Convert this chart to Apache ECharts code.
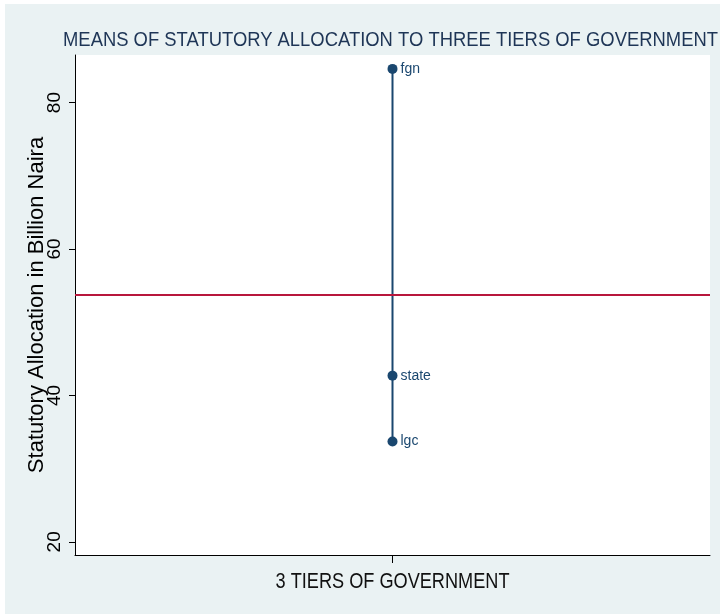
<!DOCTYPE html>
<html>
<head>
<meta charset="utf-8">
<script src="https://cdn.jsdelivr.net/npm/echarts@6/dist/echarts.min.js"></script>
<style>
  html, body { margin: 0; padding: 0; background: #ffffff; }
  #main { position: absolute; left: 5px; top: 4px; width: 715px; height: 610px; }
</style>
</head>
<body>
<div id="main"></div>
<script>
// tiers and their mean allocation (billion naira)
const tiers = ['fgn', 'state', 'lgc'];
const means = [84.6, 42.7, 33.7];
const grandMean = 53.7;
const yTicks = [20, 40, 60, 80];

const titleText = 'MEANS OF STATUTORY ALLOCATION TO THREE TIERS OF GOVERNMENT';
const xName = '3 TIERS OF GOVERNMENT';
const font = '"Liberation Sans", Arial, sans-serif';
const navy = '#1a476f';

// the original uses a narrow face for title and x title, squeeze ours to the same width
const ctx = document.createElement('canvas').getContext('2d');
ctx.font = '20px ' + font;
const titleScale = 655 / ctx.measureText(titleText).width;
ctx.font = '22px ' + font;
const xNameScale = 234 / ctx.measureText(xName).width;

const chart = echarts.init(document.getElementById('main'));

const option = {
  backgroundColor: '#eaf2f3',
  animation: false,
  graphic: [
    {
      type: 'text',
      x: 58,
      y: 36.5,
      scaleX: titleScale,
      style: {
        text: titleText,
        font: '20px ' + font,
        fill: '#1e3556',
        align: 'left',
        verticalAlign: 'middle'
      }
    },
    {
      type: 'text',
      x: 387.5,
      y: 578,
      scaleX: xNameScale,
      style: {
        text: xName,
        font: '22px ' + font,
        fill: '#111',
        align: 'center',
        verticalAlign: 'middle'
      }
    }
  ],
  grid: {
    left: 70, right: 10, top: 51, bottom: 59,
    show: true, backgroundColor: '#ffffff', borderWidth: 0
  },
  xAxis: {
    type: 'value',
    min: 0, max: 2,
    axisLine: { show: true, lineStyle: { color: '#000', width: 1 } },
    axisTick: { show: true, length: 8, customValues: [1], lineStyle: { color: '#000' } },
    axisLabel: { show: false },
    splitLine: { show: false }
  },
  yAxis: {
    type: 'value',
    min: 18.2, max: 86.5,
    name: 'Statutory Allocation in Billion Naira',
    nameLocation: 'middle',
    nameGap: 27,
    nameMoveOverlap: false,
    nameTextStyle: { fontFamily: font, fontSize: 22, color: '#000' },
    axisLine: { show: true, lineStyle: { color: '#000', width: 1 } },
    axisTick: { show: true, length: 6, customValues: yTicks, lineStyle: { color: '#000' } },
    axisLabel: {
      customValues: yTicks,
      rotate: 90,
      margin: 11,
      fontFamily: font,
      fontSize: 19,
      color: '#000'
    },
    splitLine: { show: false }
  },
  series: [
    {
      type: 'line',
      data: tiers.map((t, i) => ({ name: t, value: [1, means[i]] })),
      symbol: 'circle',
      symbolSize: 10,
      lineStyle: { color: navy, width: 2 },
      itemStyle: { color: navy },
      label: {
        show: true,
        position: 'right',
        distance: 3,
        formatter: p => p.name,
        fontFamily: font,
        fontSize: 14,
        color: navy
      },
      markLine: {
        silent: true,
        symbol: 'none',
        label: { show: false },
        lineStyle: { color: '#b8173c', width: 2, type: 'solid' },
        data: [{ yAxis: grandMean }]
      }
    }
  ]
};

chart.setOption(option);
</script>
</body>
</html>
